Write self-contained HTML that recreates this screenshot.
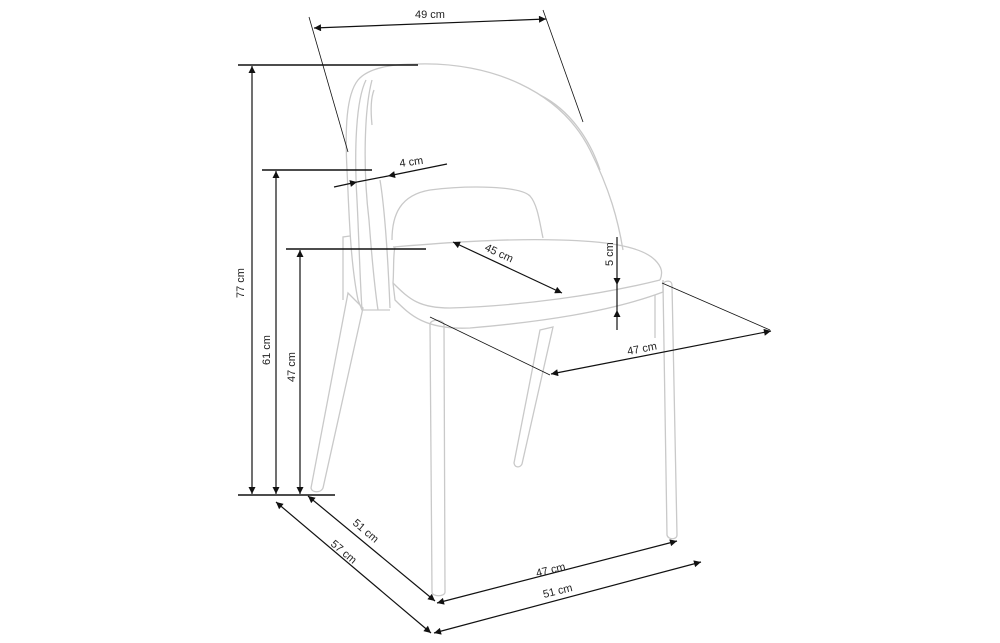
<!DOCTYPE html>
<html><head><meta charset="utf-8"><style>
html,body{margin:0;padding:0;background:#fff;}
svg{display:block}
text{font-family:"Liberation Sans",sans-serif;font-size:11px;fill:#222}
</style></head><body>
<svg width="1000" height="643" viewBox="0 0 1000 643" xmlns="http://www.w3.org/2000/svg">
<defs>
<marker id="a" viewBox="0 0 10 10" refX="10" refY="5" markerWidth="9" markerHeight="7" orient="auto-start-reverse" markerUnits="userSpaceOnUse"><path d="M0,0 L10,5 L0,10 z" fill="#111"/></marker>
</defs>
<!-- chair -->
<g fill="none" stroke="#c9c9c9" stroke-width="1.3">
<!-- back outer -->
<path d="M418,64 C390,64 368,68 358,80 C346,95 345,130 347,170 C349,210 350,260 358,300 L362,310 L390,310"/>
<path d="M418,64 C490,62 560,90 590,150 C610,190 618,220 623,250"/>
<path d="M366,80 C356,100 354,150 357,200 C359,240 360,280 362,310"/>
<path d="M372,80 C364,110 363,170 369,220 C372,260 375,290 378,310"/>
<path d="M374,90 C370,100 371,115 372,125"/>
<path d="M540,95 C570,110 590,140 600,170"/>
<path d="M380,180 C385,210 388,260 390,308"/>
<!-- back inner opening -->
<path d="M392,240 C392,215 400,195 430,190 C470,185 520,186 530,196 C538,205 540,225 543,238"/>
<!-- small side piece -->
<path d="M343,300 L343,237 L350,236"/>
<!-- seat -->
<path d="M393,247 C430,244 500,238 560,240 C600,241 640,245 655,260 C662,267 663,273 660,280"/>
<path d="M393,283 C394,270 393,255 395,247"/>
<path d="M393,283 C410,300 420,308 450,308 C520,306 600,295 660,280"/>
<path d="M393,283 L395,300 C410,315 425,330 470,328 C540,322 610,312 663,292 L663,280"/>
<!-- legs -->
<path d="M348,293 L363,308 L323,488 C321,493 312,493 311,488 Z"/>
<path d="M430,324 C431,319 442,319 444,324 L445,592 C445,597 432,597 432,592 Z"/>
<path d="M540,330 L553,327 L522,464 C520,468 515,468 514,463 Z"/>
<path d="M663,284 C665,280 672,280 672,285 L677,535 C677,540 668,540 667,535 Z"/>
<path d="M655,295 L655,338"/>
</g>
<!-- dimension lines -->
<g stroke="#111" fill="none" stroke-width="1.2">
<line x1="238" y1="65" x2="418" y2="65" stroke-width="1.6"/>
<line x1="262" y1="170" x2="372" y2="170" stroke-width="1.6"/>
<line x1="286" y1="249" x2="426" y2="249" stroke-width="1.6"/>
<line x1="238" y1="495" x2="335" y2="495" stroke-width="1.6"/>
<line x1="252" y1="66" x2="252" y2="494" marker-start="url(#a)" marker-end="url(#a)"/>
<line x1="276" y1="171" x2="276" y2="494" marker-start="url(#a)" marker-end="url(#a)"/>
<line x1="300" y1="250" x2="300" y2="494" marker-start="url(#a)" marker-end="url(#a)"/>
<line x1="309" y1="17" x2="348" y2="152" stroke-width="0.8"/>
<line x1="543" y1="10" x2="583" y2="122" stroke-width="0.8"/>
<line x1="314" y1="28" x2="546" y2="19" marker-start="url(#a)" marker-end="url(#a)"/>
<line x1="334" y1="187" x2="357" y2="182" marker-end="url(#a)"/>
<line x1="447" y1="164" x2="388" y2="176" marker-end="url(#a)"/>
<line x1="357" y1="182" x2="388" y2="176"/>
<line x1="453" y1="242" x2="562" y2="293" marker-start="url(#a)" marker-end="url(#a)"/>
<line x1="617" y1="237" x2="617" y2="285" marker-end="url(#a)"/>
<line x1="617" y1="285" x2="617" y2="310"/>
<line x1="617" y1="330" x2="617" y2="310" marker-end="url(#a)"/>
<line x1="430" y1="317" x2="550" y2="375" stroke-width="0.8"/>
<line x1="662" y1="283" x2="770" y2="330" stroke-width="0.8"/>
<line x1="551" y1="374" x2="771" y2="331" marker-start="url(#a)" marker-end="url(#a)"/>
<line x1="308" y1="496" x2="435" y2="601" marker-start="url(#a)" marker-end="url(#a)"/>
<line x1="276" y1="502" x2="431" y2="633" marker-start="url(#a)" marker-end="url(#a)"/>
<line x1="437" y1="603" x2="677" y2="541" marker-start="url(#a)" marker-end="url(#a)"/>
<line x1="434" y1="633" x2="701" y2="562" marker-start="url(#a)" marker-end="url(#a)"/>
</g>
<g>
<text x="415" y="18">49 cm</text>
<text transform="translate(244,298) rotate(-90)">77 cm</text>
<text transform="translate(270,365) rotate(-90)">61 cm</text>
<text transform="translate(295,382) rotate(-90)">47 cm</text>
<text transform="translate(400,167) rotate(-8)">4 cm</text>
<text transform="translate(484,250) rotate(25)">45 cm</text>
<text transform="translate(613,266) rotate(-90)">5 cm</text>
<text transform="translate(628,355) rotate(-11)">47 cm</text>
<text transform="translate(352,524) rotate(40)">51 cm</text>
<text transform="translate(330,545) rotate(40)">57 cm</text>
<text transform="translate(537,577) rotate(-14)">47 cm</text>
<text transform="translate(544,598) rotate(-14)">51 cm</text>
</g>
</svg>
</body></html>
